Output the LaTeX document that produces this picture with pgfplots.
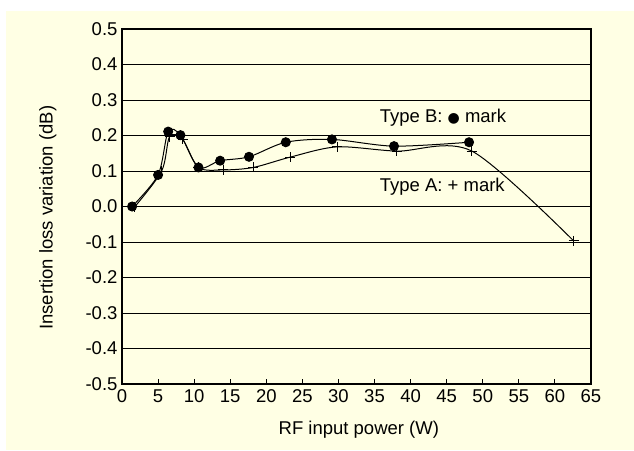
\documentclass[border=0pt]{standalone}
\usepackage{fontspec}
\setmainfont{Liberation Sans}
\newfontfamily\dejavu{DejaVu Sans}
\usepackage{pgfplots}
\pgfplotsset{compat=1.18}
\definecolor{bgyellow}{RGB}{255,255,228}
\begin{document}
\begin{tikzpicture}[x=1pt,y=1pt]
\fill[white] (0,0) rectangle (634,450);
\fill[bgyellow] (6,0) rectangle (634,439);
\begin{axis}[
  at={(122pt,66pt)}, anchor=south west,
  scale only axis, width=469pt, height=355pt,
  xmin=0, xmax=65, ymin=-0.5, ymax=0.5,
  xtick={0,5,10,15,20,25,30,35,40,45,50,55,60,65},
  ytick={-0.5,-0.4,-0.3,-0.2,-0.1,0,0.1,0.2,0.3,0.4,0.5},
  yticklabel style={xshift=-1pt, /pgf/number format/.cd, fixed, fixed zerofill, precision=1},
  /pgf/number format/assume math mode=true,
  tick pos=left,
  xtick align=inside,
  major tick length=5pt,
  ytick style={draw=none},
  xtick style={black, line width=1pt},
  ymajorgrids,
  major grid style={black, line width=1pt},
  axis line style={black, line width=1.3pt},
  tick label style={font=\fontsize{18.5}{21}\selectfont, black},
  xticklabel style={yshift=-2pt},
  label style={font=\fontsize{18.5}{21}\selectfont, black},
  xlabel={RF input power (W)},
  ylabel={Insertion loss variation (dB)},
  xlabel style={at={(axis description cs:0.505,-0.13)}, anchor=center},
  ylabel style={at={(axis description cs:-0.158,0.468)}, anchor=center, rotate=0},
]
% Type B (filled circles)
\addplot[black, line width=1pt, smooth, mark=*, mark size=4.5pt, mark options={fill=black}] coordinates {
  (1.4,0.000) (5.0,0.089) (6.4,0.211) (8.1,0.201) (10.6,0.110) (13.6,0.129)
  (17.6,0.140) (22.7,0.181) (29.1,0.189) (37.7,0.170) (48.1,0.181)
};
% Type A (+ marks)
\addplot[black, line width=1pt, smooth, mark=+, mark size=5pt, mark options={line width=1pt}] coordinates {
  (1.8,0.000) (5.5,0.100) (6.6,0.197) (8.4,0.189) (10.6,0.110) (14.0,0.103)
  (18.2,0.110) (23.3,0.139) (29.8,0.168) (38.1,0.156) (48.5,0.156) (62.6,-0.097)
};
\node[anchor=west, inner sep=0pt, font=\fontsize{18.5}{21}\selectfont] at (axis cs:35.7,0.25) {Type B: {\dejavu\fontsize{14}{14}\selectfont ●} mark};
\node[anchor=west, inner sep=0pt, font=\fontsize{18.5}{21}\selectfont] at (axis cs:35.7,0.055) {Type A: + mark};
\end{axis}
\end{tikzpicture}
\end{document}
